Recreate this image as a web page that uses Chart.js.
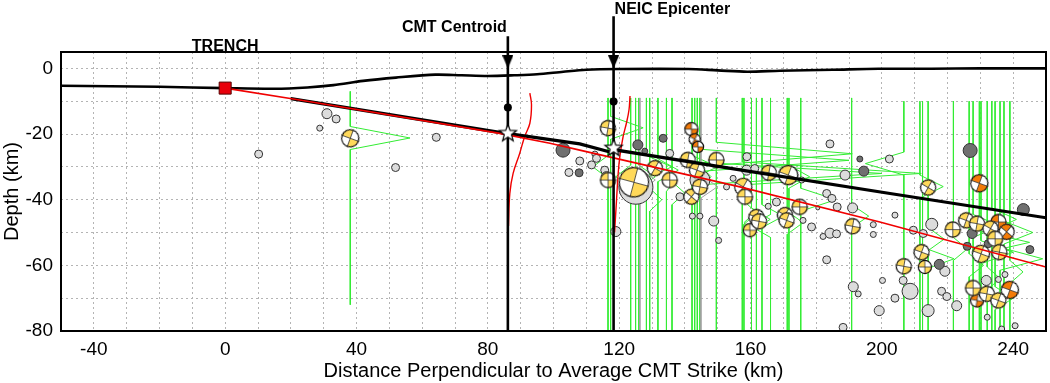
<!DOCTYPE html>
<html>
<head>
<meta charset="utf-8">
<script src="https://cdn.jsdelivr.net/npm/chart.js@4"></script>
<style>
  html, body { margin: 0; padding: 0; background: #fff; overflow: hidden; }
  #myChart { display: block; }
</style>
</head>
<body>
<canvas id="myChart" width="1050" height="383"></canvas>
<script>
// topography along the profile (km, depth km)
const topoKm = [-50, -20, 0, 15, 25, 33, 42, 52, 64, 72, 80, 88, 95, 103, 110, 120, 141, 150, 159, 169, 185, 199, 215, 230, 250];
const topoDepth = [-5.3, -5.6, -6.0, -6.2, -5.8, -5.1, -3.8, -2.8, -1.9, -2.1, -2.3, -2.1, -1.8, -1.0, -0.4, -0.2, -0.2, -0.6, -1.0, -0.7, -0.4, -0.1, -0.1, 0.0, 0.0];

// slab interfaces
const redKm = [0, 22.7, 83.6, 98.9, 108, 156.8, 199.4, 250];
const redDepth = [-6, -9.6, -19.8, -22.8, -24.9, -36.1, -46.8, -60.5];
const blackKm = [20, 83.6, 108, 117.8, 118.6, 156.8, 202.5, 250];
const blackDepth = [-9.2, -19.5, -23.0, -25.6, -24.8, -30.9, -38.1, -45.5];

// reference hypocentres
const refName = ['CMT Centroid', 'NEIC Epicenter'];
const refKm = [86.1, 118.3];
const refShaftTop = [9.8, 15.9];
const refDotDepth = [-11.9, -10.1];
const refStarDepth = [-19.8, -24.3];

// depth pdfs of the reference solutions (red)
const cmtPdfKm = [92.8, 93.3, 92.8, 91.2, 89.7, 87.7, 86.7, 86.3];
const cmtPdfDepth = [-7.5, -11.1, -16.7, -20.8, -25.9, -32.0, -38.1, -48.0];
const neicPdfKm = [123.3, 123.0, 122.2, 121.2, 120.2, 119.7, 119.2, 118.6];
const neicPdfDepth = [-8.4, -12.6, -16.7, -20.8, -26.9, -32.0, -40.0, -50.0];

// aftershock depth pdfs (green)
const greenKm = [38.1, 116.6, 117.4, 123.5, 125.0, 126.0, 128.3, 129.3, 131.8, 134.4, 136.1, 142.2, 143.0, 143.8, 144.6, 149.6, 157.5, 158.0, 160.3, 161.8, 163.5, 166.1, 171.2, 171.7, 175.3, 190.8, 206.7, 211.6, 212.4, 214.1, 221.8, 226.6, 227.8, 229.7, 230.2, 232.1, 233.5, 234.5, 236.0, 237.2, 239.0];
const greenTop = [-7, -9, -9, -9, -9, -9, -9, -9, -9, -9, -9, -9, -9, -9, -9, -9, -9, -9, -9, -9, -9, -9, -9, -9, -9, -9, -10, -10, -10, -10, -10, -10, -10, -10, -10, -10, -10, -10, -10, -10, -10];
const greenPeakDepth = [-21.2, -30, -18.1, -33, -36, -33, -30, -40, -31, -34, -38, -30, -28, -32, -33, -26, -32, -44, -46, -47, -45, -48, -47, -33, -40, -45, -29, -36, -58, -52, -55, -60, -48, -53, -56, -64, -46, -70, -58, -50, -62];
const greenPeakKm = [56.3, 112, 127.3, 119, 121, 131, 136, 133, 138, 137, 140, 150, 190, 200, 148, 191, 212, 162, 166, 158, 170, 160, 176, 178, 186, 196, 195, 218.7, 222, 219, 226, 231, 236, 245, 240, 236, 241, 240, 249, 246, 243];
const greenBottom = [-72, -80, -80, -80, -80, -80, -80, -80, -80, -80, -80, -80, -80, -80, -80, -80, -80, -80, -80, -80, -80, -80, -80, -80, -80, -80, -80, -80, -80, -80, -80, -80, -80, -80, -80, -80, -80, -80, -80, -80, -80];
const grayPdfKm = [126.3, 144.9];
const grayPdfPeakDepth = [-34, -36];
const grayPdfPeakKm = [131, 150];

// aftershocks without mechanism
const lightKm = [10.2, 28.8, 31.0, 33.8, 51.9, 64.3, 104.7, 108.0, 111.6, 112.6, 113.1, 115.6, 116.1, 119.0, 125.1, 135.4, 138.5, 144.6, 144.6, 142.3, 148.8, 150.3, 154.7, 152.7, 158.9, 158.8, 161.3, 175.6, 167.9, 165.4, 176.0, 178.6, 180.5, 183.2, 184.8, 186.4, 184.2, 188.8, 191.1, 184.2, 186.2, 182.1, 183.2, 197.4, 197.4, 191.3, 192.8, 188.2, 199.2, 202.3, 204.0, 200.2, 206.5, 208.6, 204.0, 209.6, 212.6, 215.2, 219.2, 218.2, 219.8, 222.8, 214.1, 231.8, 235.5, 237.5, 232.1, 236.5, 240.6];
const lightDepth = [-26.1, -18.2, -13.8, -15.4, -30.2, -21.0, -31.7, -28.2, -29.4, -26.1, -27.4, -31.0, -33.0, -49.7, -36.2, -25.9, -39.1, -34.0, -45.0, -45.0, -46.5, -52.4, -33.5, -36.1, -26.9, -31.0, -30.5, -34.0, -40.7, -42.0, -46.3, -48.3, -42.5, -38.1, -39.6, -42.2, -23.0, -32.5, -42.5, -50.2, -50.4, -51.2, -58.3, -47.6, -50.6, -66.5, -68.7, -78.9, -73.8, -27.6, -44.7, -64.6, -64.6, -67.9, -70.0, -49.3, -50.3, -47.5, -61.8, -67.9, -69.5, -72.3, -73.8, -64.6, -64.3, -62.8, -75.8, -79.4, -78.4];
const lightMag = [4.8, 4.6, 5.0, 4.8, 4.8, 4.8, 4.8, 4.8, 4.8, 4.6, 4.8, 4.8, 5.0, 5.0, 7.4, 4.8, 4.8, 6.0, 4.6, 4.6, 5.0, 4.6, 4.6, 4.6, 4.8, 5.0, 4.8, 4.6, 4.8, 4.6, 4.6, 4.8, 4.4, 4.8, 4.8, 4.8, 4.8, 5.0, 5.0, 5.0, 4.8, 4.6, 4.8, 4.6, 4.6, 5.0, 4.6, 4.8, 5.0, 4.8, 4.6, 4.6, 4.8, 5.6, 4.8, 4.8, 4.8, 5.2, 5.0, 4.8, 4.8, 5.0, 5.2, 5.0, 4.6, 4.6, 4.6, 4.6, 4.6];
const darkKm = [102.9, 107.8, 125.7, 127.8, 133.4, 193.3, 194.5, 226.9, 243.1, 227.5, 232.4, 226.0, 245.1, 217.5];
const darkDepth = [-24.9, -31.8, -23.3, -25.2, -21.3, -27.6, -31.3, -25.0, -43.0, -50.3, -53.4, -54.2, -55.2, -59.7];
const darkMag = [5.4, 4.8, 5.0, 4.6, 4.8, 4.6, 5.0, 5.4, 5.2, 5.0, 4.8, 4.8, 4.8, 5.0];

// focal mechanisms
const yellowKm = [38.1, 116.6, 116.6, 124.5, 130.9, 135.4, 140.9, 143.7, 149.6, 142.0, 144.6, 157.8, 158.3, 165.6, 171.5, 175.0, 170.5, 161.8, 159.8, 162.6, 171.0, 191.1, 214.1, 221.6, 225.7, 229.0, 233.1, 234.5, 230.2, 235.8, 212.1, 213.1, 206.7, 227.8, 232.0, 235.5];
const yellowDepth = [-21.3, -18.2, -34.0, -34.7, -30.4, -34.0, -27.9, -31.0, -27.9, -39.1, -36.1, -36.1, -39.1, -31.8, -32.5, -42.2, -44.7, -45.3, -49.3, -46.6, -46.3, -48.1, -36.3, -49.1, -46.3, -47.3, -48.8, -51.9, -56.5, -56.0, -56.0, -60.5, -60.3, -66.9, -68.7, -70.7];
const yellowMag = [5.8, 5.6, 5.6, 7.0, 5.6, 5.6, 5.6, 5.6, 5.6, 5.6, 5.6, 5.8, 5.6, 5.6, 6.0, 5.6, 5.6, 5.6, 5.4, 5.6, 5.6, 5.6, 5.6, 5.6, 5.6, 5.6, 5.6, 5.6, 5.8, 5.6, 5.6, 5.4, 5.6, 5.6, 5.6, 5.6];
const yellowStrike = [20, 10, 0, 15, 30, 0, 10, 20, 0, 40, 10, 30, 0, 10, 20, 0, 30, 20, 0, 10, 20, 10, 30, 0, 20, 10, 30, 0, 20, 10, 20, 0, 10, 0, 10, 20];
const orangeKm = [142.0, 143.0, 144.0, 229.7, 235.5, 238.0, 229.0, 239.0];
const orangeDepth = [-18.5, -21.6, -23.9, -35.0, -46.8, -49.8, -70.7, -67.5];
const orangeMag = [5.4, 5.2, 5.2, 5.8, 5.6, 5.6, 5.4, 5.8];
const orangeStrike = [0, 30, 0, 20, 0, 40, 10, 20];

const FONT = '"Liberation Sans", Arial, Helvetica, sans-serif';
Chart.defaults.font.family = FONT;

function pts(xs, ys) {
    return xs.map((x, i) => ({x: x, y: ys[i]}));
}
function magRadius(m) {
    return (m - 4) * 5;
}

var ballCache = {};
function ballImage(r, fill) {
    var key = r.toFixed(1) + fill;
    if (ballCache[key]) return ballCache[key];
    var s = Math.ceil(r * 2 + 3);
    var c = document.createElement('canvas');
    c.width = s; c.height = s;
    var g = c.getContext('2d');
    var m = s / 2;
    g.beginPath(); g.arc(m, m, r, 0, Math.PI * 2); g.fillStyle = '#fff'; g.fill();
    g.fillStyle = fill;
    [0, Math.PI].forEach(function (a0) {
        g.beginPath(); g.moveTo(m, m);
        g.arc(m, m, r, a0, a0 + Math.PI / 2);
        g.closePath(); g.fill();
    });
    g.strokeStyle = '#333'; g.lineWidth = 0.8;
    g.beginPath();
    g.moveTo(m - r, m); g.lineTo(m + r, m);
    g.moveTo(m, m - r); g.lineTo(m, m + r);
    g.stroke();
    g.beginPath(); g.arc(m, m, r - 0.4, 0, Math.PI * 2);
    g.strokeStyle = '#111'; g.lineWidth = 1.2; g.stroke();
    ballCache[key] = c;
    return c;
}

function starImage(R) {
    var s = Math.ceil(R * 2 + 4);
    var c = document.createElement('canvas');
    c.width = s; c.height = s;
    var g = c.getContext('2d');
    var m = s / 2;
    g.beginPath();
    for (var i = 0; i < 10; i++) {
        var rr = i % 2 === 0 ? R : R * 0.42;
        var a = -Math.PI / 2 + i * Math.PI / 5;
        if (i === 0) g.moveTo(m + rr * Math.cos(a), m + rr * Math.sin(a));
        else g.lineTo(m + rr * Math.cos(a), m + rr * Math.sin(a));
    }
    g.closePath();
    g.fillStyle = '#fff'; g.fill();
    g.strokeStyle = '#000'; g.lineWidth = 1.2; g.stroke();
    return c;
}

function arrowImage() {
    var c = document.createElement('canvas');
    c.width = 11; c.height = 13;
    var g = c.getContext('2d');
    g.beginPath(); g.moveTo(0, 0); g.lineTo(11, 0); g.lineTo(5.5, 13); g.closePath();
    g.fillStyle = '#000'; g.fill();
    return c;
}

var datasets = [];

// trench marker
datasets.push({
    data: [{x: redKm[0], y: redDepth[0]}],
    pointStyle: 'rect', pointRadius: 8.5,
    backgroundColor: '#e8000b', borderColor: '#500', borderWidth: 1,
    order: 1
});

// stars, dots and arrowheads of the reference solutions
var star = starImage(9);
var arrow = arrowImage();
datasets.push({
    data: pts(refKm, refStarDepth),
    pointStyle: star, pointRadius: 9, order: 2
});
datasets.push({
    data: pts(refKm, refDotDepth),
    pointStyle: 'circle', pointRadius: 4,
    backgroundColor: '#000', borderColor: '#000', borderWidth: 0, order: 3
});
datasets.push({
    data: pts(refKm, refKm.map(() => 2)),
    pointStyle: arrow, pointRadius: 6, order: 3
});
refKm.forEach(function (x, i) {
    datasets.push({
        data: [{x: x, y: refShaftTop[i]}, {x: x, y: -80}],
        showLine: true, pointRadius: 0,
        borderColor: '#000', borderWidth: 2.6, clip: false, order: 5
    });
});

// slab lines
datasets.push({
    data: pts(redKm, redDepth), showLine: true, pointRadius: 0,
    borderColor: '#f00000', borderWidth: 1.6, order: 7
});
datasets.push({
    data: pts(blackKm, blackDepth), showLine: true, pointRadius: 0,
    borderColor: '#000', borderWidth: 3.2, order: 8
});

// red pdfs
datasets.push({
    data: pts(cmtPdfKm, cmtPdfDepth), showLine: true, pointRadius: 0,
    borderColor: '#f00000', borderWidth: 1.4, tension: 0.4, order: 9
});
datasets.push({
    data: pts(neicPdfKm, neicPdfDepth), showLine: true, pointRadius: 0,
    borderColor: '#f00000', borderWidth: 1.4, tension: 0.4, order: 9
});

// topography
datasets.push({
    data: pts(topoKm, topoDepth), showLine: true, pointRadius: 0,
    borderColor: '#000', borderWidth: 2.6, tension: 0.3, order: 10
});

// focal mechanisms
datasets.push({
    data: pts(yellowKm, yellowDepth),
    pointRadius: yellowMag.map(magRadius),
    pointStyle: yellowMag.map(m => ballImage(magRadius(m), '#ffd95a')),
    rotation: yellowStrike,
    order: 20
});
datasets.push({
    data: pts(orangeKm, orangeDepth),
    pointRadius: orangeMag.map(magRadius),
    pointStyle: orangeMag.map(m => ballImage(magRadius(m), '#f47b07')),
    rotation: orangeStrike,
    order: 20
});

// plain aftershocks
datasets.push({
    data: pts(darkKm, darkDepth),
    pointRadius: darkMag.map(magRadius),
    backgroundColor: '#707070', borderColor: '#333', borderWidth: 1,
    order: 25
});
datasets.push({
    data: pts(lightKm, lightDepth),
    pointRadius: lightMag.map(magRadius),
    backgroundColor: '#dcdcdc', borderColor: '#333', borderWidth: 1,
    order: 26
});

// depth pdfs
function pdfLine(x, top, peakD, peakX, bottom) {
    return [
        {x: x, y: top}, {x: x, y: peakD + 3.5}, {x: peakX, y: peakD},
        {x: x, y: peakD - 3.5}, {x: x, y: bottom}
    ];
}
grayPdfKm.forEach(function (x, i) {
    datasets.push({
        data: pdfLine(x, -9, grayPdfPeakDepth[i], grayPdfPeakKm[i], -80),
        showLine: true, pointRadius: 0,
        borderColor: '#a0a0a0', borderWidth: 1, order: 49
    });
});
greenKm.forEach(function (x, i) {
    datasets.push({
        data: pdfLine(x, greenTop[i], greenPeakDepth[i], greenPeakKm[i], greenBottom[i]),
        showLine: true, pointRadius: 0,
        borderColor: '#33ec33', borderWidth: 1, order: 50
    });
});

const overlay = {
    id: 'overlay',
    afterDraw(chart) {
        const ctx = chart.ctx, a = chart.chartArea;
        const xs = chart.scales.x, ys = chart.scales.y;
        ctx.save();
        ctx.strokeStyle = '#000';
        ctx.lineWidth = 2;
        ctx.strokeRect(a.left, a.top, a.right - a.left, a.bottom - a.top);
        ctx.fillStyle = '#000';
        ctx.font = 'bold 16px ' + FONT;
        ctx.textBaseline = 'alphabetic';
        ctx.textAlign = 'center';
        ctx.fillText('TRENCH', xs.getPixelForValue(redKm[0]), ys.getPixelForValue(5.3));
        ctx.textAlign = 'right';
        ctx.fillText(refName[0], xs.getPixelForValue(refKm[0]) - 1, ys.getPixelForValue(11.1));
        ctx.textAlign = 'left';
        ctx.fillText(refName[1], xs.getPixelForValue(refKm[1]) + 1, ys.getPixelForValue(16.7));
        ctx.restore();
    }
};

new Chart(document.getElementById('myChart').getContext('2d'), {
    type: 'scatter',
    data: {datasets: datasets},
    plugins: [overlay],
    options: {
        responsive: false,
        animation: false,
        events: [],
        layout: {autoPadding: false, padding: {top: 52, right: 4, left: 0, bottom: 0}},
        plugins: {legend: {display: false}, tooltip: {enabled: false}},
        scales: {
            x: {
                type: 'linear', min: -50, max: 250,
                afterFit: function (s) { s.height = 52; s.paddingLeft = 0; s.paddingRight = 0; },
                ticks: {
                    stepSize: 10, autoSkip: false, maxRotation: 0, includeBounds: false,
                    padding: 7, color: '#000', font: {size: 19},
                    callback: v => (v % 40 === 0 ? String(v) : '')
                },
                grid: {color: '#b4b4b4', lineWidth: 1, drawTicks: false},
                border: {display: false, dash: [2, 3]},
                title: {
                    display: true, text: 'Distance Perpendicular to Average CMT Strike (km)',
                    color: '#000', font: {size: 20}, padding: 0
                }
            },
            y: {
                type: 'linear', min: -80, max: 5,
                afterFit: function (s) { s.width = 61; },
                ticks: {
                    stepSize: 10, includeBounds: false, padding: 8,
                    color: '#000', font: {size: 19},
                    callback: v => (v % 20 === 0 ? String(v) : '')
                },
                grid: {color: '#b4b4b4', lineWidth: 1, drawTicks: false},
                border: {display: false, dash: [2, 3]},
                title: {
                    display: true, text: 'Depth (km)',
                    color: '#000', font: {size: 20}, padding: 0
                }
            }
        }
    }
});
</script>
</body>
</html>
